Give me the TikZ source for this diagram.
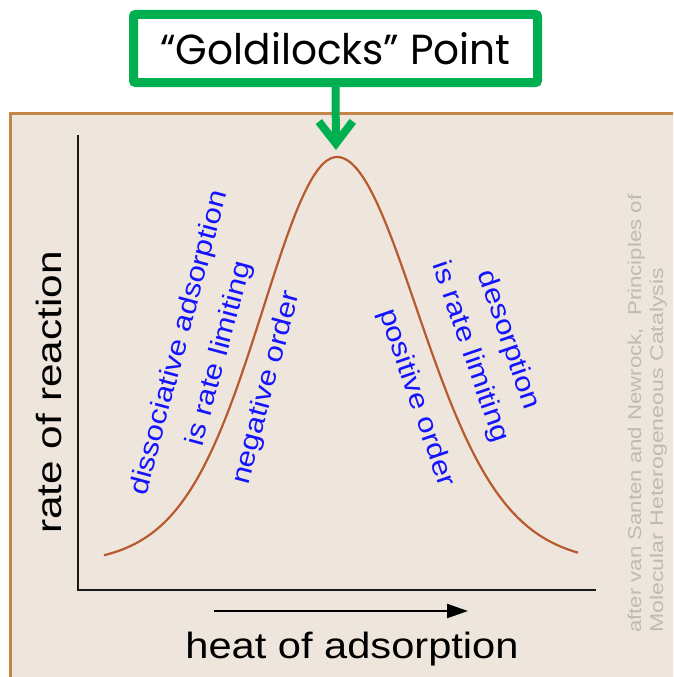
\documentclass[tikz,border=0pt]{standalone}
\usepackage{fontspec}
\usepackage{graphicx}
\setmainfont{Liberation Sans}
\newfontfamily\poppinsfont{Poppins}
\usetikzlibrary{arrows.meta}
\definecolor{panelbg}{HTML}{EEE6DC}
\definecolor{panelrim}{RGB}{196,134,72}
\definecolor{gogreen}{HTML}{00B050}
\definecolor{curvebrown}{RGB}{184,90,48}
\definecolor{labelblue}{RGB}{20,20,255}
\definecolor{wmgray}{RGB}{190,186,181}
\newcommand\stretchtxt[2]{\scalebox{#1}[1]{#2}}
\begin{document}
\begin{tikzpicture}[x=1pt,y=-1pt,
  panel/.style={fill=panelbg, draw=panelrim, line width=2.5pt},
  gbox/.style={draw=gogreen, fill=white, line width=9pt, rounded corners=2pt, inner sep=0pt},
  garrow/.style={draw=gogreen, line width=8pt, -{Straight Barb[length=22pt,width=34pt]}},
  axis/.style={draw=black!90, line width=2.6pt},
  curvestyle/.style={draw=curvebrown, line width=2.2pt},
  bluetxt/.style={inner sep=0pt, text=labelblue, font=\fontsize{27}{32}\selectfont},
  wmtxt/.style={inner sep=0pt, text=wmgray, font=\fontsize{18.5}{22}\selectfont},
  blacktxt/.style={inner sep=0pt, text=black}
]
\useasboundingbox (0,0) rectangle (673,677);
\clip (0,0) rectangle (673,677);
\fill[white] (0,0) rectangle (673,677);
% panel
\draw[panel] (10.5,113.5) rectangle (700,700);
% title box and arrow
\node[gbox, minimum width=404pt, minimum height=68pt] (gl) at (335.5,48.5)
  {\resizebox{350pt}{32pt}{\poppinsfont “Goldilocks” Point}};
\coordinate (peaktip) at (336,150);
\draw[garrow] (gl.south) -- (peaktip);
% axes
\coordinate (ytop) at (78,135);
\coordinate (xend) at (596,590);
\draw[axis] (ytop) |- (xend);
% curve
\draw[curvestyle] plot[domain=104:337,samples=70,smooth] (\x,{565-408/((1+((\x-337)/100)^2/9.126)^8)})
  -- plot[domain=337:578,samples=70,smooth] (\x,{565-408/((1+((\x-337)/100)^2/10.584)^8)});
% heat arrow
\coordinate (ha1) at (214,611);
\coordinate (ha2) at (468,611);
\draw[line width=2.2pt, -{Triangle[length=21pt,width=14pt]}] (ha1) -- (ha2);
% axis labels
\node[blacktxt, anchor=base, font=\fontsize{36.5}{40}\selectfont] (xlab) at (352,658)
  {\stretchtxt{1.14}{heat of adsorption}};
\node[blacktxt, rotate=90, font=\fontsize{35}{40}\selectfont] (ylab) at (48.5,392.5)
  {\stretchtxt{1.21}{rate of reaction}};
% blue labels
\node[rotate=75, bluetxt] (l1) at (180,343) {\stretchtxt{1.15}{dissociative adsorption}};
\node[rotate=75, bluetxt] (l2) at (220,354) {\stretchtxt{1.15}{is rate limiting}};
\node[rotate=75, bluetxt] (l3) at (267,388) {\stretchtxt{1.15}{negative order}};
\node[rotate=-71, bluetxt] (r1) at (508,340) {\stretchtxt{1.15}{desorption}};
\node[rotate=-71, bluetxt] (r2) at (470,352) {\stretchtxt{1.15}{is rate limiting}};
\node[rotate=-71, bluetxt] (r3) at (416,398) {\stretchtxt{1.15}{positive order}};
% watermark
\node[rotate=90, anchor=base west, wmtxt] (w1) at (641,633)
  {\stretchtxt{1.2}{after van Santen and Newrock,~ Principles of}};
\node[rotate=90, anchor=base west, wmtxt] (w2) at (663,633)
  {\stretchtxt{1.25}{Molecular Heterogeneous Catalysis}};
\end{tikzpicture}
\end{document}
